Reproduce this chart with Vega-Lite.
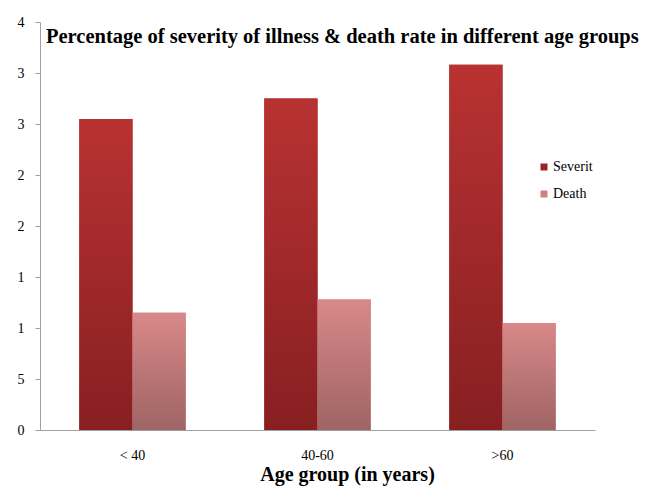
{
  "$schema": "https://vega.github.io/schema/vega-lite/v6.json",
  "autosize": "none",
  "width": 555,
  "height": 408,
  "padding": {"left": 40, "top": 22, "right": 50, "bottom": 59},
  "background": "white",
  "title": {
    "text": "Percentage of severity of illness & death rate in different age groups",
    "font": "Liberation Serif",
    "fontSize": 20.5,
    "fontWeight": "bold",
    "color": "black",
    "anchor": "start",
    "frame": "group",
    "orient": "top",
    "baseline": "alphabetic",
    "offset": -48,
    "dx": 6
  },
  "data": {
    "values": [
      {"age": "< 40", "series": "Severit", "value": 30.5},
      {"age": "< 40", "series": "Death", "value": 11.5},
      {"age": "40-60", "series": "Severit", "value": 32.5},
      {"age": "40-60", "series": "Death", "value": 12.8},
      {"age": ">60", "series": "Severit", "value": 35.8},
      {"age": ">60", "series": "Death", "value": 10.5}
    ]
  },
  "encoding": {
    "x": {
      "field": "age",
      "type": "nominal",
      "sort": ["< 40", "40-60", ">60"],
      "scale": {"paddingInner": 0.425, "paddingOuter": 0.2125},
      "axis": {
        "title": "Age group (in years)",
        "titleFont": "Liberation Serif",
        "titleFontSize": 20,
        "titleFontWeight": "bold",
        "titleColor": "black",
        "titleX": 307,
        "titlePadding": 2,
        "labelAngle": 0,
        "labelFont": "Liberation Serif",
        "labelFontSize": 14,
        "labelColor": "black",
        "labelPadding": 18,
        "ticks": false,
        "domainColor": "#a0a0a0",
        "domainWidth": 1.2
      }
    },
    "xOffset": {
      "field": "series",
      "type": "nominal",
      "scale": {"domain": ["Severit", "Death"], "paddingInner": 0, "paddingOuter": 0}
    },
    "y": {
      "field": "value",
      "type": "quantitative",
      "scale": {"domain": [0, 40], "nice": false},
      "axis": {
        "title": null,
        "values": [0, 5, 10, 15, 20, 25, 30, 35, 40],
        "labelExpr": "substring(datum.label, 0, 1)",
        "labelFont": "Liberation Serif",
        "labelFontSize": 14,
        "labelColor": "black",
        "labelPadding": 11,
        "tickSize": 5,
        "tickColor": "#a0a0a0",
        "domainColor": "#a0a0a0",
        "grid": false
      }
    }
  },
  "layer": [
    {
      "mark": {"type": "bar"},
      "encoding": {
        "color": {
          "field": "series",
          "type": "nominal",
          "scale": {"domain": ["Severit", "Death"], "range": ["#9b2226", "#d08080"]},
          "legend": {
            "title": null,
            "orient": "none",
            "legendX": 497,
            "legendY": 138,
            "padding": 0,
            "symbolType": "square",
            "symbolSize": 49,
            "symbolStrokeWidth": 0,
            "labelFont": "Liberation Serif",
            "labelFontSize": 14,
            "labelColor": "black",
            "labelOffset": 2,
            "rowPadding": 13
          }
        }
      }
    },
    {
      "transform": [{"filter": "datum.series === 'Severit'"}],
      "mark": {
        "type": "bar",
        "fill": {
          "gradient": "linear", "x1": 0, "y1": 0, "x2": 0, "y2": 1,
          "stops": [{"offset": 0, "color": "#b93232"}, {"offset": 1, "color": "#871f21"}]
        }
      }
    },
    {
      "transform": [{"filter": "datum.series === 'Death'"}],
      "mark": {
        "type": "bar",
        "fill": {
          "gradient": "linear", "x1": 0, "y1": 0, "x2": 0, "y2": 1,
          "stops": [{"offset": 0, "color": "#d88888"}, {"offset": 1, "color": "#a06464"}]
        }
      }
    }
  ],
  "config": {"view": {"stroke": null}}
}
